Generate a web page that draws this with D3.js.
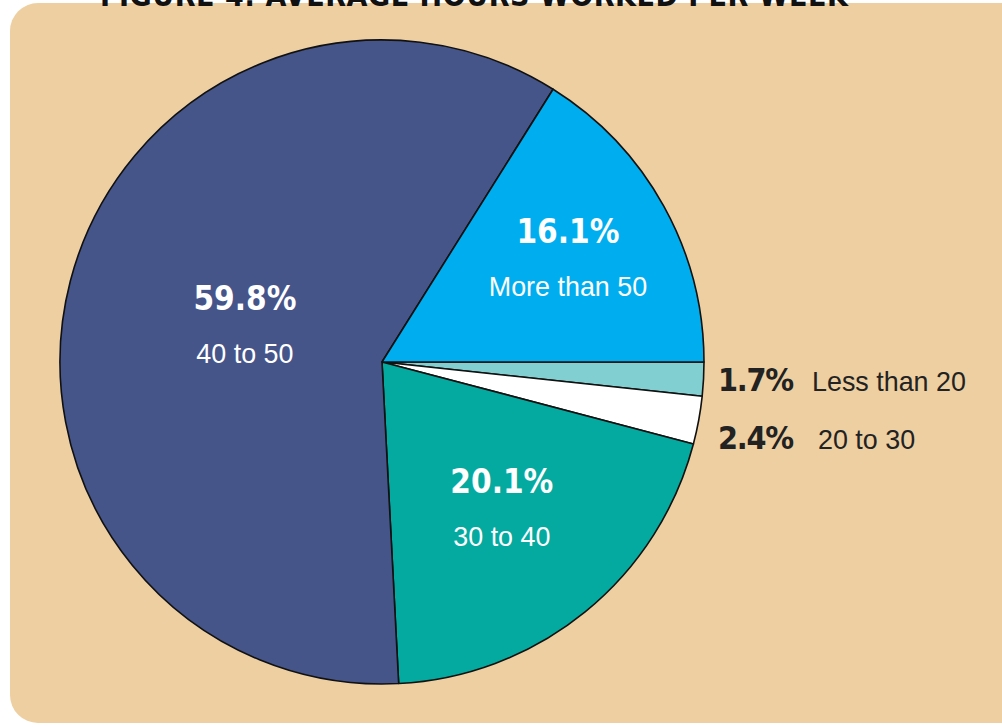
<!DOCTYPE html>
<html>
<head>
<meta charset="utf-8">
<script src="https://cdn.jsdelivr.net/npm/d3@7"></script>
<style>
  body { margin: 0; background: #fff; }
  svg { display: block; }
</style>
</head>
<body>
<svg id="chart" width="1002" height="727"></svg>
<script>
// values, clockwise from 3 o'clock
const categories = ["Less than 20", "20 to 30", "30 to 40", "40 to 50", "More than 50"];
const shares = [1.7, 2.4, 20.1, 59.8, 16.1];
const sliceColors = ["#82cfd1", "#ffffff", "#04aaa0", "#45558a", "#00aeef"];
const insideLabel = [false, false, true, true, true];
const titleText = "FIGURE 4: AVERAGE HOURS WORKED PER WEEK";

const svg = d3.select("#chart");
const cx = 382, cy = 362, radius = 322;

// tan panel
svg.append("rect")
    .attr("x", 10).attr("y", 3)
    .attr("width", 1030).attr("height", 720)
    .attr("rx", 28).attr("ry", 28)
    .style("fill", "#edcfa1");

// title, mostly cut off at the top edge like the scan
svg.append("text")
    .attr("x", 474).attr("y", 6)
    .attr("text-anchor", "middle")
    .attr("textLength", 748)
    .style("font-family", "'DejaVu Sans Condensed', 'DejaVu Sans'")
    .style("font-weight", "bold")
    .style("font-size", "30px")
    .style("fill", "#111")
    .text(titleText);

const data = categories.map((c, i) => ({label: c, value: shares[i], color: sliceColors[i], inside: insideLabel[i]}));

const pie = d3.pie()
    .sort(null)
    .value(d => d.value)
    .startAngle(Math.PI / 2)
    .endAngle(Math.PI / 2 + 2 * Math.PI);

const arc = d3.arc().innerRadius(0).outerRadius(radius);

const g = svg.append("g").attr("transform", "translate(" + cx + "," + cy + ")");

const arcs = pie(data);

g.selectAll("path.slice")
    .data(arcs)
    .enter().append("path")
    .attr("class", "slice")
    .attr("d", arc)
    .style("fill", d => d.data.color)
    .style("stroke", "#111")
    .style("stroke-width", 1.6)
    .style("stroke-linejoin", "round");

// how far out along the radius the inside labels sit
const labelRadius = {"30 to 40": 0.59, "40 to 50": 0.44, "More than 50": 0.66};

const pctFont = "'DejaVu Sans Condensed', 'DejaVu Sans'";
const subFont = "'Liberation Sans', sans-serif";

// narrow sans: draw at normal width then squeeze a little
function narrowText(parent, x, y, str, anchor, color) {
    return parent.append("text")
        .attr("transform", "translate(" + x + "," + y + ") scale(0.96,1)")
        .attr("text-anchor", anchor)
        .style("font-family", subFont)
        .style("font-size", "28px")
        .style("fill", color)
        .text(str);
}

arcs.filter(d => d.data.inside).forEach(d => {
    const r = radius * labelRadius[d.data.label];
    const c = d3.arc().innerRadius(r).outerRadius(r).centroid(d);
    g.append("text")
        .attr("x", c[0]).attr("y", c[1] - 16)
        .attr("text-anchor", "middle")
        .style("font-family", pctFont)
        .style("font-weight", "bold")
        .style("font-size", "33px")
        .style("fill", "#fff")
        .text(d3.format(".1f")(d.data.value) + "%");
    narrowText(g, c[0], c[1] + 37, d.data.label, "middle", "#fff");
});

// outside labels on the right
let lastY = -Infinity;
arcs.filter(d => !d.data.inside).forEach(d => {
    const c = d3.arc().innerRadius(radius).outerRadius(radius).centroid(d);
    let y = Math.max(c[1] + 12, lastY + 58);
    lastY = y;
    g.append("text")
        .attr("x", radius + 14).attr("y", y)
        .attr("textLength", 76)
        .style("font-family", pctFont)
        .style("font-weight", "bold")
        .style("font-size", "32px")
        .style("fill", "#222")
        .text(d3.format(".1f")(d.data.value) + "%");
    narrowText(g, radius + 14 + 94 + (d.data.value > 2 ? 6 : 0), y, d.data.label, "start", "#222");
});
</script>
</body>
</html>
